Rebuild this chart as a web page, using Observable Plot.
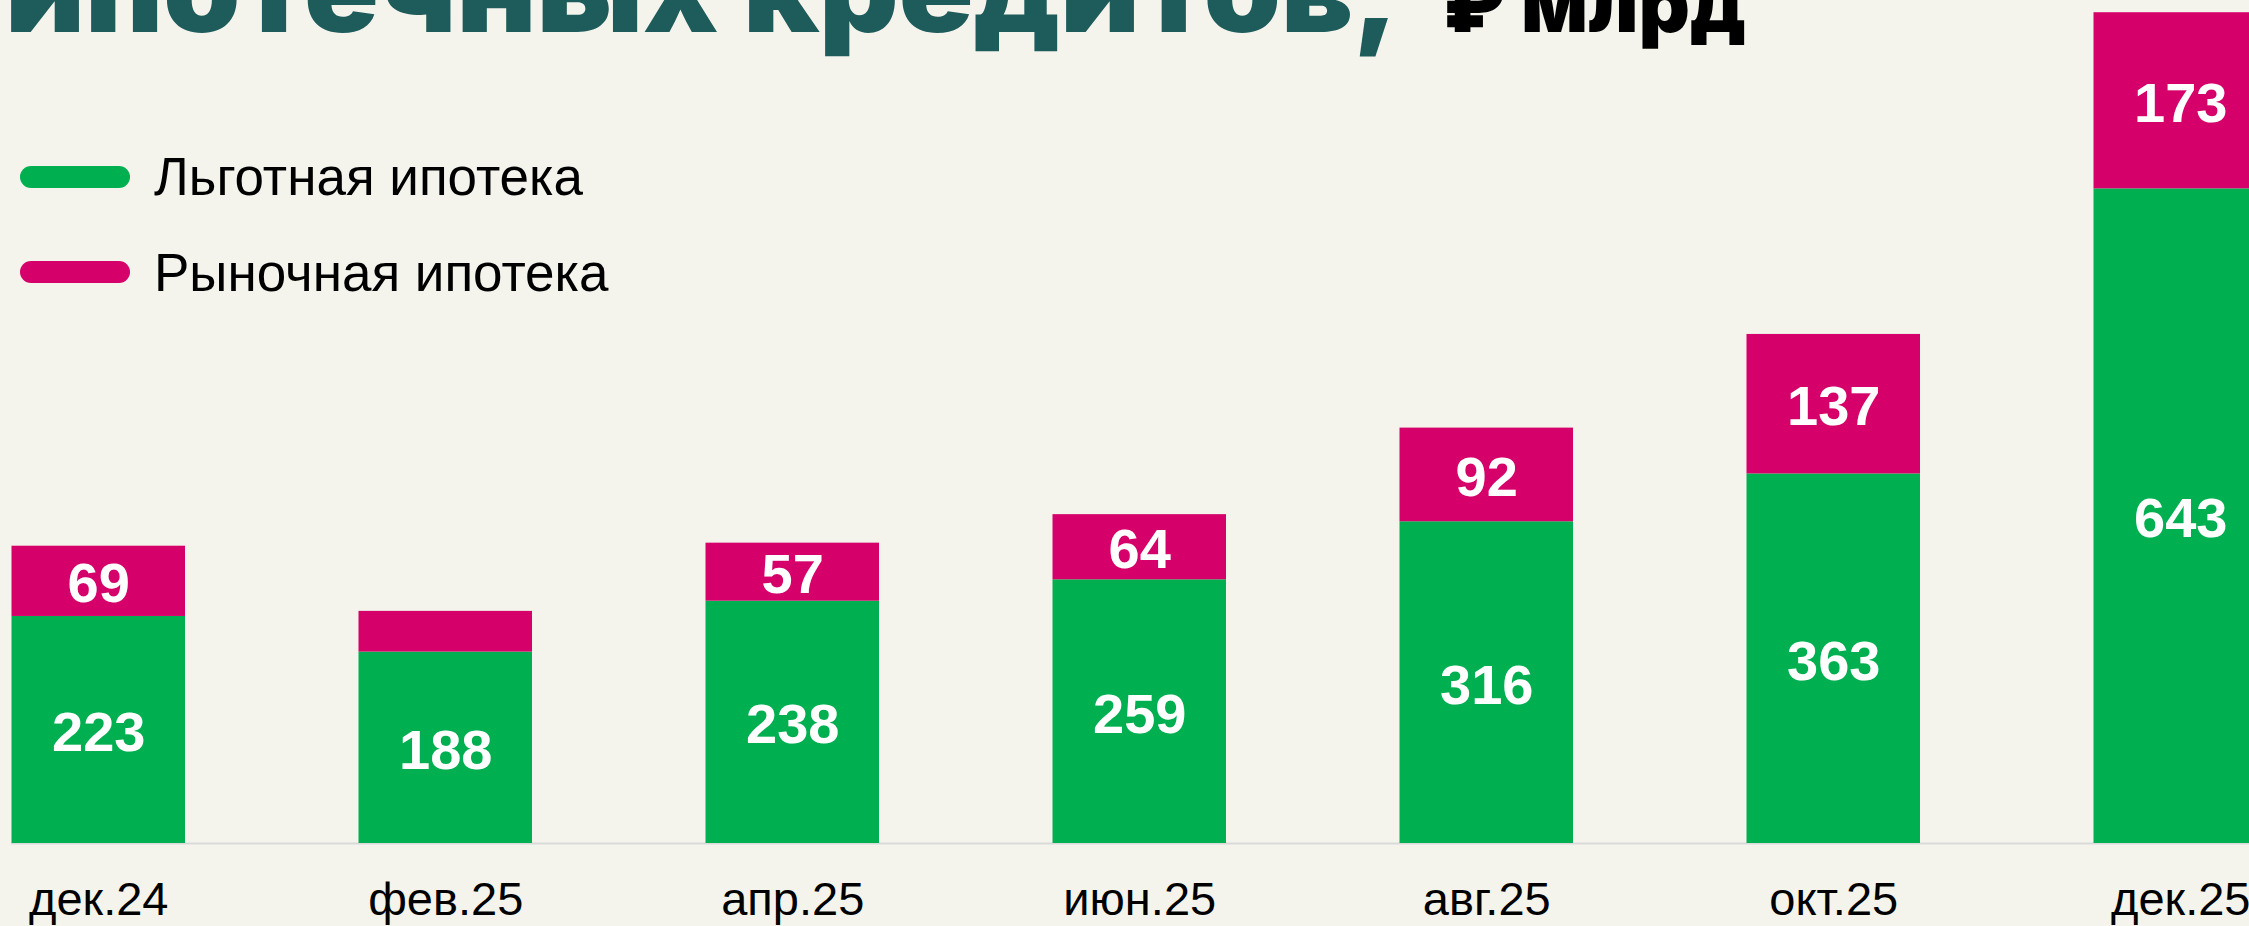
<!DOCTYPE html>
<html><head><meta charset="utf-8">
<script src="https://cdn.jsdelivr.net/npm/d3@7"></script>
<script src="https://cdn.jsdelivr.net/npm/@observablehq/plot@0.6"></script>
<style>
html,body{margin:0;padding:0;background:#f4f4ec;overflow:hidden;}
#wrap{position:relative;width:2249px;height:926px;overflow:hidden;}
#chart{position:absolute;left:0;top:0;}
#title{position:absolute;left:0;top:0;}
.legend-item{position:absolute;left:20px;height:60px;display:flex;align-items:center;font-family:"Liberation Sans",Arial,sans-serif;font-size:53px;color:#000;white-space:nowrap;}
.pill{width:110px;height:22px;border-radius:11px;margin-right:24px;flex:none;}
</style></head><body>
<div id="wrap"><div id="chart"></div><svg id="title" width="2249" height="80" xmlns="http://www.w3.org/2000/svg"></svg><div id="legend"></div></div>
<script>
const months = ["дек.24","фев.25","апр.25","июн.25","авг.25","окт.25","дек.25"];
const seriesNames = ["Льготная ипотека","Рыночная ипотека"];
const lgotnaya = [223,188,238,259,316,363,643];
const rynochnaya = [69,40,57,64,92,137,173];
const seriesColors = ["#00b050","#d6006b"];
const titleMain = "ипотечных кредитов,";
const titleUnit = "₽ млрд";

const data = months.flatMap((m, i) => [
  {month: m, series: seriesNames[0], value: lgotnaya[i]},
  {month: m, series: seriesNames[1], value: rynochnaya[i]}
]);

const chart = Plot.plot({
  width: 2249, height: 926,
  marginTop: 0, marginBottom: 83, marginLeft: 11, marginRight: 0,
  style: {background: "transparent", fontFamily: "'Liberation Sans', Arial, sans-serif", color: "#000", overflow: "hidden"},
  x: {domain: months, range: [11.5, 2267], paddingInner: 0.5, paddingOuter: 0, round: false, label: null},
  y: {domain: [0, 828], axis: null},
  color: {domain: seriesNames, range: seriesColors},
  marks: [
    Plot.ruleY([0], {stroke: "#d9d9d9", strokeWidth: 2}),
    Plot.barY(data, {x: "month", y: "value", fill: "series"}),
    Plot.text(data, Plot.stackY({
      x: "month", y: "value", z: "series",
      text: d => d.value >= 50 ? String(d.value) : "",
      fill: "white", fontSize: 56, fontWeight: "bold", dy: 3
    })),
    Plot.axisX({tickSize: 0, tickPadding: 38, fontSize: 47, fill: "#000", label: null})
  ]
});
document.getElementById("chart").appendChild(chart);

// Title (overlaid, partly cut off at the top as in the reference)
const NS = "http://www.w3.org/2000/svg";
const tsvg = document.getElementById("title");
function addText(str, x, size, color, len) {
  const t = document.createElementNS(NS, "text");
  t.setAttribute("x", x); t.setAttribute("y", 32);
  t.setAttribute("font-size", size);
  t.setAttribute("font-weight", 900);
  t.setAttribute("font-family", "Inter, Roboto, 'DejaVu Sans', sans-serif");
  t.setAttribute("fill", color);
  t.setAttribute("textLength", len);
  t.setAttribute("lengthAdjust", "spacingAndGlyphs");
  t.textContent = str;
  tsvg.appendChild(t);
}
addText(titleMain, 5, 118, "#1e5b5b", 1394);
addText(titleUnit, 1443, 80, "#000", 303);

// Legend
const legend = document.getElementById("legend");
const legendCenters = [176.5, 272];
seriesNames.forEach((name, i) => {
  const item = document.createElement("div");
  item.className = "legend-item";
  item.style.top = (legendCenters[i] - 30) + "px";
  const pill = document.createElement("div");
  pill.className = "pill";
  pill.style.background = seriesColors[i];
  const label = document.createElement("span");
  label.textContent = name;
  item.appendChild(pill); item.appendChild(label);
  legend.appendChild(item);
});
</script>
</body></html>
